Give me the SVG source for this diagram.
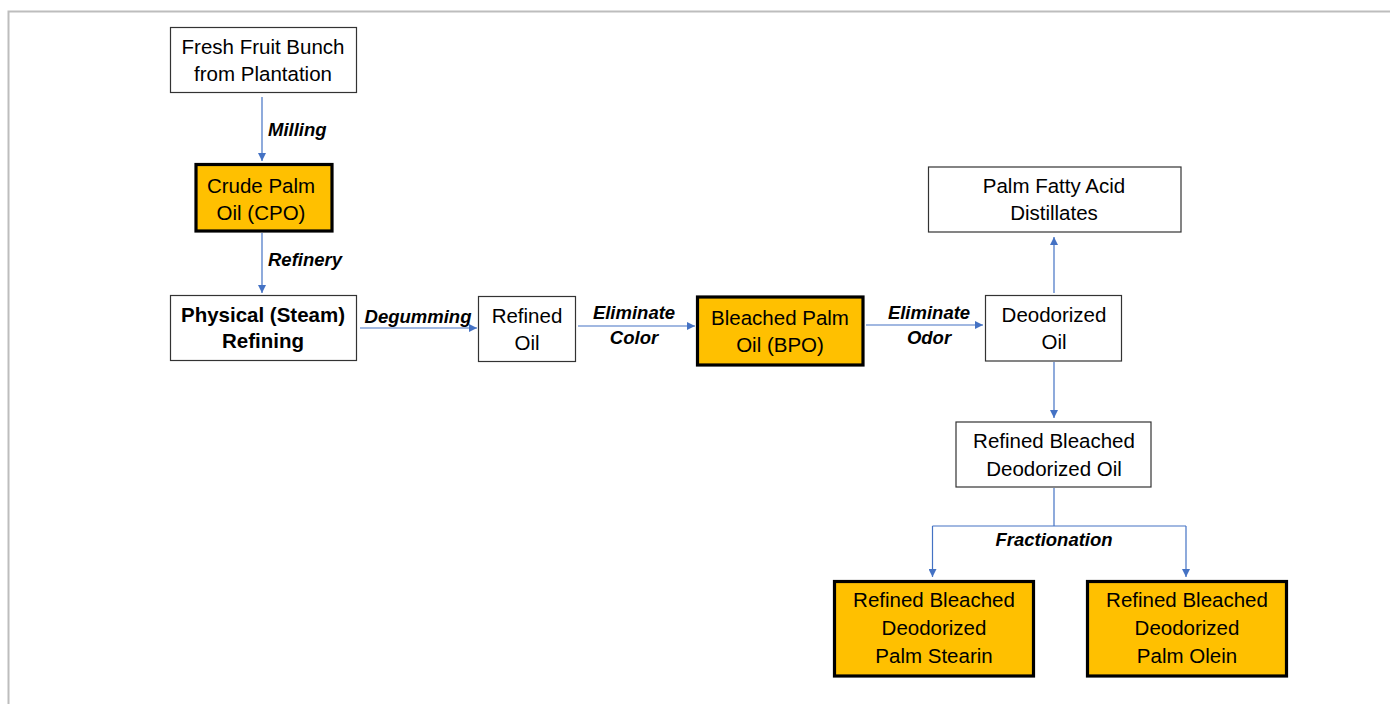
<svg xmlns="http://www.w3.org/2000/svg" width="1390" height="704" viewBox="0 0 1390 704">
<style>
.box{fill:#fff;stroke:#333;stroke-width:1.2}
.hl{fill:#FFC000;stroke:#000;stroke-width:3.2}
.t{font-family:"Liberation Sans",Arial,sans-serif;font-size:20.5px;fill:#000;text-anchor:middle}
.b{font-weight:bold}
.lbl{font-family:"Liberation Sans",Arial,sans-serif;font-size:18.5px;font-weight:bold;font-style:italic;fill:#000}
.c{fill:none;stroke:#4472C4;stroke-width:1.2}
</style>
<defs>
<marker id="ah" viewBox="0 0 10 10" refX="10" refY="5" markerWidth="8" markerHeight="8" markerUnits="userSpaceOnUse" orient="auto">
<path d="M0,0 L10,5 L0,10 z" fill="#4472C4"/>
</marker>
</defs>
<rect x="0" y="0" width="1390" height="704" fill="#fff"/>
<path d="M8.5,704 L8.5,11.5 L1390,11.5" fill="none" stroke="#bdbdbd" stroke-width="2"/>

<g id="connectors">
<line class="c" x1="262" y1="97" x2="262" y2="161" marker-end="url(#ah)"/>
<line class="c" x1="262" y1="233" x2="262" y2="293" marker-end="url(#ah)"/>
<line class="c" x1="360" y1="328" x2="477" y2="328" marker-end="url(#ah)"/>
<line class="c" x1="578" y1="326" x2="695" y2="326" marker-end="url(#ah)"/>
<line class="c" x1="866" y1="325" x2="983" y2="325" marker-end="url(#ah)"/>
<line class="c" x1="1054" y1="293" x2="1054" y2="237" marker-end="url(#ah)"/>
<line class="c" x1="1054" y1="362" x2="1054" y2="418" marker-end="url(#ah)"/>
<path class="c" d="M1054,488 L1054,526"/>
<path class="c" d="M932.5,526 L1186,526"/>
<line class="c" x1="932.5" y1="526" x2="932.5" y2="577" marker-end="url(#ah)"/>
<line class="c" x1="1186" y1="526" x2="1186" y2="577" marker-end="url(#ah)"/>
<text class="lbl" x="268" y="136">Milling</text>
<text class="lbl" x="268" y="266">Refinery</text>
<text class="lbl" x="418" y="323" text-anchor="middle">Degumming</text>
<text class="lbl" x="634" y="319" text-anchor="middle">Eliminate</text>
<text class="lbl" x="634" y="344" text-anchor="middle">Color</text>
<text class="lbl" x="929" y="319" text-anchor="middle">Eliminate</text>
<text class="lbl" x="929" y="344" text-anchor="middle">Odor</text>
<text class="lbl" x="1054" y="546" text-anchor="middle">Fractionation</text>
</g>

<g id="ffb">
<rect class="box" x="170.5" y="27.5" width="186" height="65"/>
<text class="t" x="263" y="54">Fresh Fruit Bunch</text>
<text class="t" x="263" y="81">from Plantation</text>
</g>
<g id="cpo">
<rect class="hl" x="196" y="164.5" width="136" height="66.5"/>
<text class="t" x="261" y="193">Crude Palm</text>
<text class="t" x="261" y="220">Oil (CPO)</text>
</g>
<g id="physical">
<rect class="box" x="170.5" y="295.5" width="186" height="65"/>
<text class="t b" x="263" y="322">Physical (Steam)</text>
<text class="t b" x="263" y="348">Refining</text>
</g>
<g id="refined">
<rect class="box" x="478.5" y="296.5" width="97" height="65"/>
<text class="t" x="527" y="323">Refined</text>
<text class="t" x="527" y="350">Oil</text>
</g>
<g id="bpo">
<rect class="hl" x="697.5" y="297" width="165.5" height="68"/>
<text class="t" x="780" y="325">Bleached Palm</text>
<text class="t" x="780" y="352">Oil (BPO)</text>
</g>
<g id="deodorized">
<rect class="box" x="985.5" y="295.5" width="136" height="65.5"/>
<text class="t" x="1054" y="322">Deodorized</text>
<text class="t" x="1054" y="349">Oil</text>
</g>
<g id="pfad">
<rect class="box" x="928.5" y="167" width="252.5" height="65"/>
<text class="t" x="1054" y="193">Palm Fatty Acid</text>
<text class="t" x="1054" y="220">Distillates</text>
</g>
<g id="rbd">
<rect class="box" x="956" y="422" width="195" height="65"/>
<text class="t" x="1054" y="448">Refined Bleached</text>
<text class="t" x="1054" y="476">Deodorized Oil</text>
</g>
<g id="stearin">
<rect class="hl" x="834.5" y="581.5" width="199" height="94.5"/>
<text class="t" x="934" y="607">Refined Bleached</text>
<text class="t" x="934" y="635">Deodorized</text>
<text class="t" x="934" y="663">Palm Stearin</text>
</g>
<g id="olein">
<rect class="hl" x="1087.5" y="581.5" width="199" height="94.5"/>
<text class="t" x="1187" y="607">Refined Bleached</text>
<text class="t" x="1187" y="635">Deodorized</text>
<text class="t" x="1187" y="663">Palm Olein</text>
</g>
</svg>
